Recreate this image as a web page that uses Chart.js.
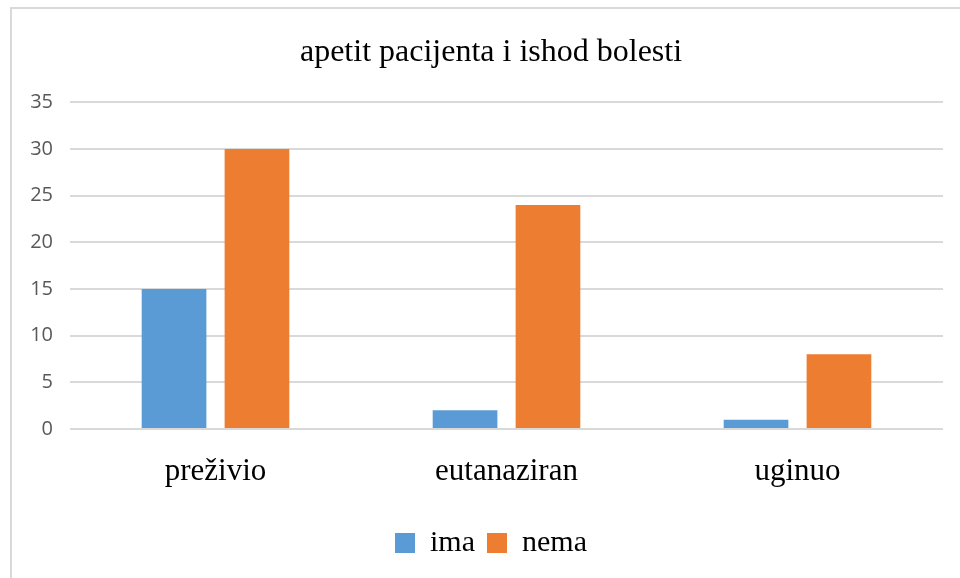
<!DOCTYPE html>
<html>
<head>
<meta charset="utf-8">
<script src="https://cdn.jsdelivr.net/npm/chart.js@4/dist/chart.umd.min.js"></script>
<style>
  html, body { margin: 0; padding: 0; background: #fff; }
  .okvir {
      position: absolute; left: 10px; top: 7px; width: 960px; height: 578px;
      border-left: 2px solid #d9d9d9; border-top: 2px solid #d9d9d9;
  }
  .platno { position: absolute; left: 0; top: 0; width: 960px; height: 578px; }
</style>
</head>
<body>
<div class="okvir"></div>
<div class="platno"><canvas id="grafikon"></canvas></div>
<script>
  // Podaci grafikona
  const kategorije = ['preživio', 'eutanaziran', 'uginuo'];
  const ima = [15, 2, 1];
  const nema = [30, 24, 8];
  const yOznake = [0, 5, 10, 15, 20, 25, 30, 35];

  const serif = '"Liberation Serif", "Times New Roman", serif';

  // Naslov i legenda su u originalu malo pomaknuti udesno
  const pomak = {
      id: 'pomak',
      afterLayout: function (chart) {
          if (chart.titleBlock) chart.titleBlock.left += 39;
          if (chart.legend) chart.legend.left += 39;
      }
  };

  var ctx = document.getElementById('grafikon');
  var grafikon = new Chart(ctx, {
      type: 'bar',
      data: {
          labels: kategorije,
          datasets: [{
              label: 'ima',
              data: ima,
              backgroundColor: '#5b9bd5',
              categoryPercentage: 0.57,
              barPercentage: 0.78
          }, {
              label: 'nema',
              data: nema,
              backgroundColor: '#ed7d31',
              categoryPercentage: 0.57,
              barPercentage: 0.78
          }]
      },
      options: {
          responsive: true,
          maintainAspectRatio: false,
          animation: false,
          layout: { padding: { left: 0, right: 17, top: 0, bottom: 10 } },
          plugins: {
              title: {
                  display: true,
                  text: 'apetit pacijenta i ishod bolesti',
                  color: '#000',
                  font: { family: serif, size: 32, weight: 'normal' },
                  padding: { top: 33, bottom: 31 }
              },
              legend: {
                  position: 'bottom',
                  labels: {
                      color: '#000',
                      font: { family: serif, size: 30 },
                      boxWidth: 20,
                      boxHeight: 20,
                      padding: 12
                  }
              },
              tooltip: { enabled: false }
          },
          scales: {
              x: {
                  grid: { display: false },
                  border: { display: false },
                  ticks: {
                      color: '#000',
                      font: { family: serif, size: 31 },
                      padding: 16
                  },
                  afterFit: function (s) { s.height = 87; }
              },
              y: {
                  min: 0,
                  max: 35,
                  afterBuildTicks: function (s) {
                      s.ticks = yOznake.map(function (v) { return { value: v }; });
                  },
                  grid: { color: '#d9d9d9', lineWidth: 2, drawTicks: false },
                  border: { display: false },
                  ticks: {
                      color: '#595959',
                      font: { family: '"Open Sans", sans-serif', size: 20 },
                      padding: 17
                  },
                  afterFit: function (s) { s.width = 70; }
              }
          }
      },
      plugins: [pomak]
  });
</script>
</body>
</html>
